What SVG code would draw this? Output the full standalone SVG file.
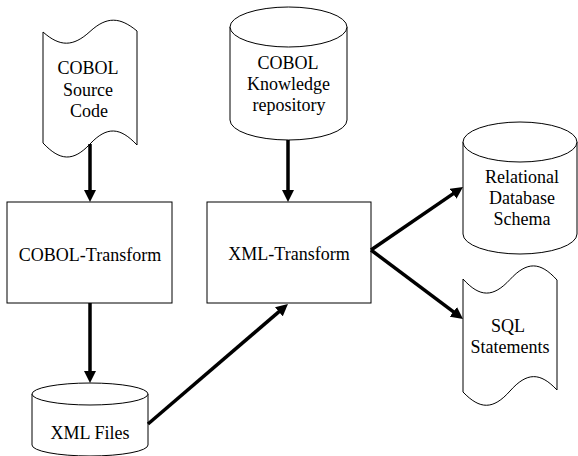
<svg xmlns="http://www.w3.org/2000/svg" width="578" height="456" viewBox="0 0 578 456">
<defs>
<style>
.shape{fill:#fff;stroke:#000;stroke-width:1}
.lbl{font-family:"Liberation Serif","Times New Roman",serif;font-size:18px;fill:#000;text-anchor:middle}
.conn{stroke:#000;stroke-width:3.5;fill:none}
</style>
<marker id="ah" markerUnits="userSpaceOnUse" markerWidth="12" markerHeight="12" refX="6" refY="6" orient="auto">
<path d="M0,0 L12,6 L0,12 z" fill="#000"/>
</marker>
</defs>
<rect width="578" height="456" fill="#fff"/>
<g id="cobol-source">
<path class="shape" d="M43,32 C59.9,47 73.1,47 90,31.5 S120.1,17 137,31 L137,145 C120.1,127 106.9,126 90,144 S59.9,161 43,143 Z"/>
<text class="lbl" x="88" y="74">COBOL</text>
<text class="lbl" x="88" y="96">Source</text>
<text class="lbl" x="89" y="117">Code</text>
</g>
<g id="cobol-knowledge">
<path class="shape" d="M230,27 L230,120 A58.5,20 0 0 0 347,120 L347,27"/>
<ellipse class="shape" cx="288.5" cy="27" rx="58.5" ry="20"/>
<text class="lbl" x="288" y="69">COBOL</text>
<text class="lbl" x="288.5" y="90">Knowledge</text>
<text class="lbl" x="289" y="111">repository</text>
</g>
<g id="cobol-transform">
<rect class="shape" x="7" y="202" width="165" height="101"/>
<text class="lbl" x="90" y="261">COBOL-Transform</text>
</g>
<g id="xml-transform">
<rect class="shape" x="207" y="202" width="164" height="101"/>
<text class="lbl" x="289" y="260">XML-Transform</text>
</g>
<g id="xml-files">
<path class="shape" d="M32,394 L32,445 A58,11 0 0 0 148,445 L148,394"/>
<ellipse class="shape" cx="90" cy="394" rx="58" ry="11"/>
<text class="lbl" x="90" y="439">XML Files</text>
</g>
<g id="relational-schema">
<path class="shape" d="M463,142 L463,234 A57,20 0 0 0 577,234 L577,142"/>
<ellipse class="shape" cx="520" cy="142" rx="57" ry="20"/>
<text class="lbl" x="522" y="183">Relational</text>
<text class="lbl" x="522" y="204">Database</text>
<text class="lbl" x="522" y="225">Schema</text>
</g>
<g id="sql-statements">
<path class="shape" d="M463,279 C479.9,297.7 493.1,297.7 510,279.5 S540.1,261.3 557,280 L557,390 C540.1,372 526.9,372 510,391 S479.9,409.7 463,392 Z"/>
<text class="lbl" x="508" y="332">SQL</text>
<text class="lbl" x="510" y="353">Statements</text>
</g>
<g id="connectors">
<line class="conn" x1="90" y1="144" x2="90" y2="196" marker-end="url(#ah)"/>
<line class="conn" x1="90" y1="303" x2="90" y2="377" marker-end="url(#ah)"/>
<line class="conn" x1="288" y1="140" x2="288" y2="196" marker-end="url(#ah)"/>
<line class="conn" x1="148" y1="424" x2="283.4" y2="307.9" marker-end="url(#ah)"/>
<line class="conn" x1="371" y1="250" x2="458.05" y2="190.4" marker-end="url(#ah)"/>
<line class="conn" x1="371" y1="250" x2="458.2" y2="315.4" marker-end="url(#ah)"/>
</g>
</svg>
